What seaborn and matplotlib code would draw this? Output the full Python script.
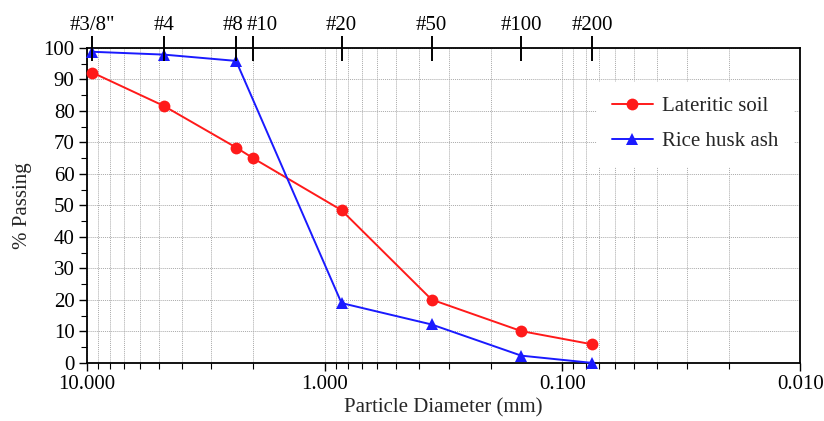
import numpy as np
import pandas as pd
import matplotlib
matplotlib.use("Agg")
import matplotlib.pyplot as plt
import matplotlib.ticker as mticker
import matplotlib.transforms as mtransforms
import seaborn as sns

# sieve analysis data
sieve_names = ['#3/8"', "#4", "#8", "#10", "#20", "#50", "#100", "#200"]
sieve_sizes = [9.5, 4.75, 2.36, 2.0, 0.85, 0.355, 0.149, 0.075]

soil_sizes = [9.5, 4.75, 2.36, 2.0, 0.85, 0.355, 0.149, 0.075]
soil_passing = [92.2, 81.6, 68.4, 65.0, 48.5, 20.1, 10.1, 5.9]

rha_sizes = [9.5, 4.75, 2.36, 0.85, 0.355, 0.149, 0.075]
rha_passing = [98.8, 97.9, 95.9, 19.0, 12.2, 2.3, 0.0]

sns.set_theme(style="ticks")
plt.rcParams["font.family"] = ["Liberation Serif", "DejaVu Serif"]
plt.rcParams["font.size"] = 15

df = pd.concat([
    pd.DataFrame({"d": soil_sizes, "p": soil_passing, "mat": "Lateritic soil"}),
    pd.DataFrame({"d": rha_sizes, "p": rha_passing, "mat": "Rice husk ash"}),
])

fig = plt.figure(figsize=(8.24, 4.21), dpi=100)
ax = fig.add_axes([0.1056, 0.138, 0.8655, 0.748])

sns.lineplot(data=df, x="d", y="p", hue="mat", style="mat",
             palette={"Lateritic soil": "#ff1a1a", "Rice husk ash": "#1a1aff"},
             markers={"Lateritic soil": "o", "Rice husk ash": "^"},
             dashes=False, markersize=8.5, markeredgewidth=0, linewidth=1.4,
             sort=False, ax=ax, clip_on=False, zorder=5)

ax.set_xscale("log")
ax.set_xlim(10, 0.01)
ax.set_ylim(0, 100)
ax.xaxis.set_major_locator(mticker.LogLocator(base=10))
ax.xaxis.set_minor_locator(mticker.LogLocator(base=10, subs=np.arange(2, 10)))
ax.xaxis.set_major_formatter(mticker.FormatStrFormatter("%.3f"))
ax.xaxis.set_minor_formatter(mticker.NullFormatter())
ax.yaxis.set_major_locator(mticker.MultipleLocator(10))
ax.yaxis.set_minor_locator(mticker.MultipleLocator(5))

ax.grid(which="both", axis="x", color="#aaaaaa", linestyle=(0, (1, 1)), linewidth=0.7)
ax.grid(which="major", axis="y", color="#aaaaaa", linestyle=(0, (1, 1)), linewidth=0.7)

for s in ax.spines.values():
    s.set_color("black")
    s.set_linewidth(1.3)

ax.tick_params(axis="both", which="major", direction="out", length=6, width=1,
               labelsize=15, colors="black", pad=3)
ax.tick_params(axis="both", which="minor", direction="out", length=4, width=0.8, colors="black")
ax.tick_params(axis="y", which="minor", left=True)

ax.set_xlabel("Particle Diameter (mm)", fontsize=15, labelpad=3)
ax.set_ylabel("% Passing", fontsize=15, labelpad=8)

# top axis with sieve numbers
top = ax.twiny()
top.set_xscale("log")
top.set_xlim(ax.get_xlim())
top.set_xticks(sieve_sizes)
top.set_xticklabels(sieve_names)
top.xaxis.set_minor_locator(mticker.NullLocator())
top.tick_params(axis="x", which="major", direction="inout", length=18, width=1.4,
                labelsize=15, colors="black", pad=0)
for s in top.spines.values():
    s.set_visible(False)

# nudge the crowded #8 / #10 labels apart
shifts = {"#8": -3, "#10": 9}
for tick in top.xaxis.get_major_ticks():
    name = tick.label2.get_text()
    if name in shifts:
        off = mtransforms.ScaledTranslation(shifts[name] / 100, 0, fig.dpi_scale_trans)
        tick.label2.set_transform(tick.label2.get_transform() + off)

leg = ax.legend(loc="upper right", bbox_to_anchor=(1.004, 0.925), frameon=True,
                fontsize=15, handlelength=2.0, labelspacing=0.75, borderpad=0.7,
                handletextpad=0.4)
leg.get_frame().set_edgecolor("white")
leg.get_frame().set_facecolor("white")
leg.get_frame().set_alpha(1)
leg.get_frame().set_boxstyle("square", pad=0)
leg.set_title(None)

fig.savefig("out.png", dpi=100)
